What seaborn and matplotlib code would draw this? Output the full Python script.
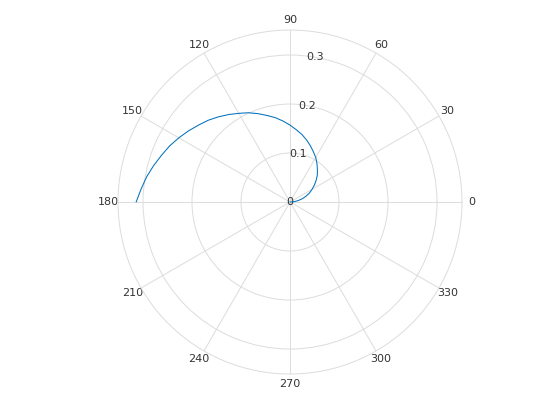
#!/usr/bin/env python3

import numpy as np
import pandas as pd
import matplotlib
matplotlib.use("Agg")
import matplotlib.pyplot as plt
import seaborn as sns

# spiral: angle (degrees) and radius
theta_deg = [0, 5, 10, 15, 20, 25, 30, 35, 40, 45, 50, 55, 60, 65, 70, 75, 80, 85, 90,
             95, 100, 105, 110, 115, 120, 125, 130, 135, 140, 145, 150, 155, 160,
             165, 170, 175, 180]
radius = [0.000, 0.009, 0.017, 0.026, 0.035, 0.044, 0.052, 0.061, 0.070, 0.079,
          0.087, 0.096, 0.105, 0.113, 0.122, 0.131, 0.140, 0.148, 0.157,
          0.166, 0.175, 0.183, 0.192, 0.201, 0.209, 0.218, 0.227, 0.236, 0.244,
          0.253, 0.262, 0.271, 0.279, 0.288, 0.297, 0.305, 0.314]

angle_ticks = list(range(0, 360, 30))
angle_labels = [str(a) for a in angle_ticks]
r_ticks = [0, 0.1, 0.2, 0.3]
r_labels = ["0", "0.1", "0.2", "0.3"]
r_max = 0.351


def main():
    sns.set_theme(style="white")
    plt.rcParams["font.family"] = ["DejaVu Sans"]

    data = pd.DataFrame({"theta": np.deg2rad(theta_deg), "r": radius})

    fig = plt.figure(figsize=(5.6, 4.2), dpi=100)
    ax = fig.add_axes([0.2107, 0.1095, 0.6143, 0.819], projection="polar")

    sns.lineplot(data=data, x="theta", y="r", ax=ax, sort=False,
                 color="#0072BD", linewidth=0.75)

    ax.set_rmax(r_max)
    ax.set_rmin(0)
    ax.set_thetagrids(angle_ticks, angle_labels)
    ax.set_rticks(r_ticks)
    ax.set_yticklabels(r_labels)
    ax.set_rlabel_position(80)
    ax.set_xlabel("")
    ax.set_ylabel("")

    ax.grid(True, color="#dcdcdc", linewidth=0.7)
    ax.spines["polar"].set_color("#dcdcdc")
    ax.spines["polar"].set_linewidth(0.7)

    ax.tick_params(axis="x", pad=-6, labelsize=8, labelcolor="#333333")
    ax.tick_params(axis="y", pad=0, labelsize=8, labelcolor="#333333")
    for lab in ax.get_yticklabels():
        lab.set_horizontalalignment("center")
        lab.set_verticalalignment("center")

    fig.savefig("out.png", dpi=100, facecolor="white")
    plt.close(fig)


if __name__ == "__main__":
    main()
